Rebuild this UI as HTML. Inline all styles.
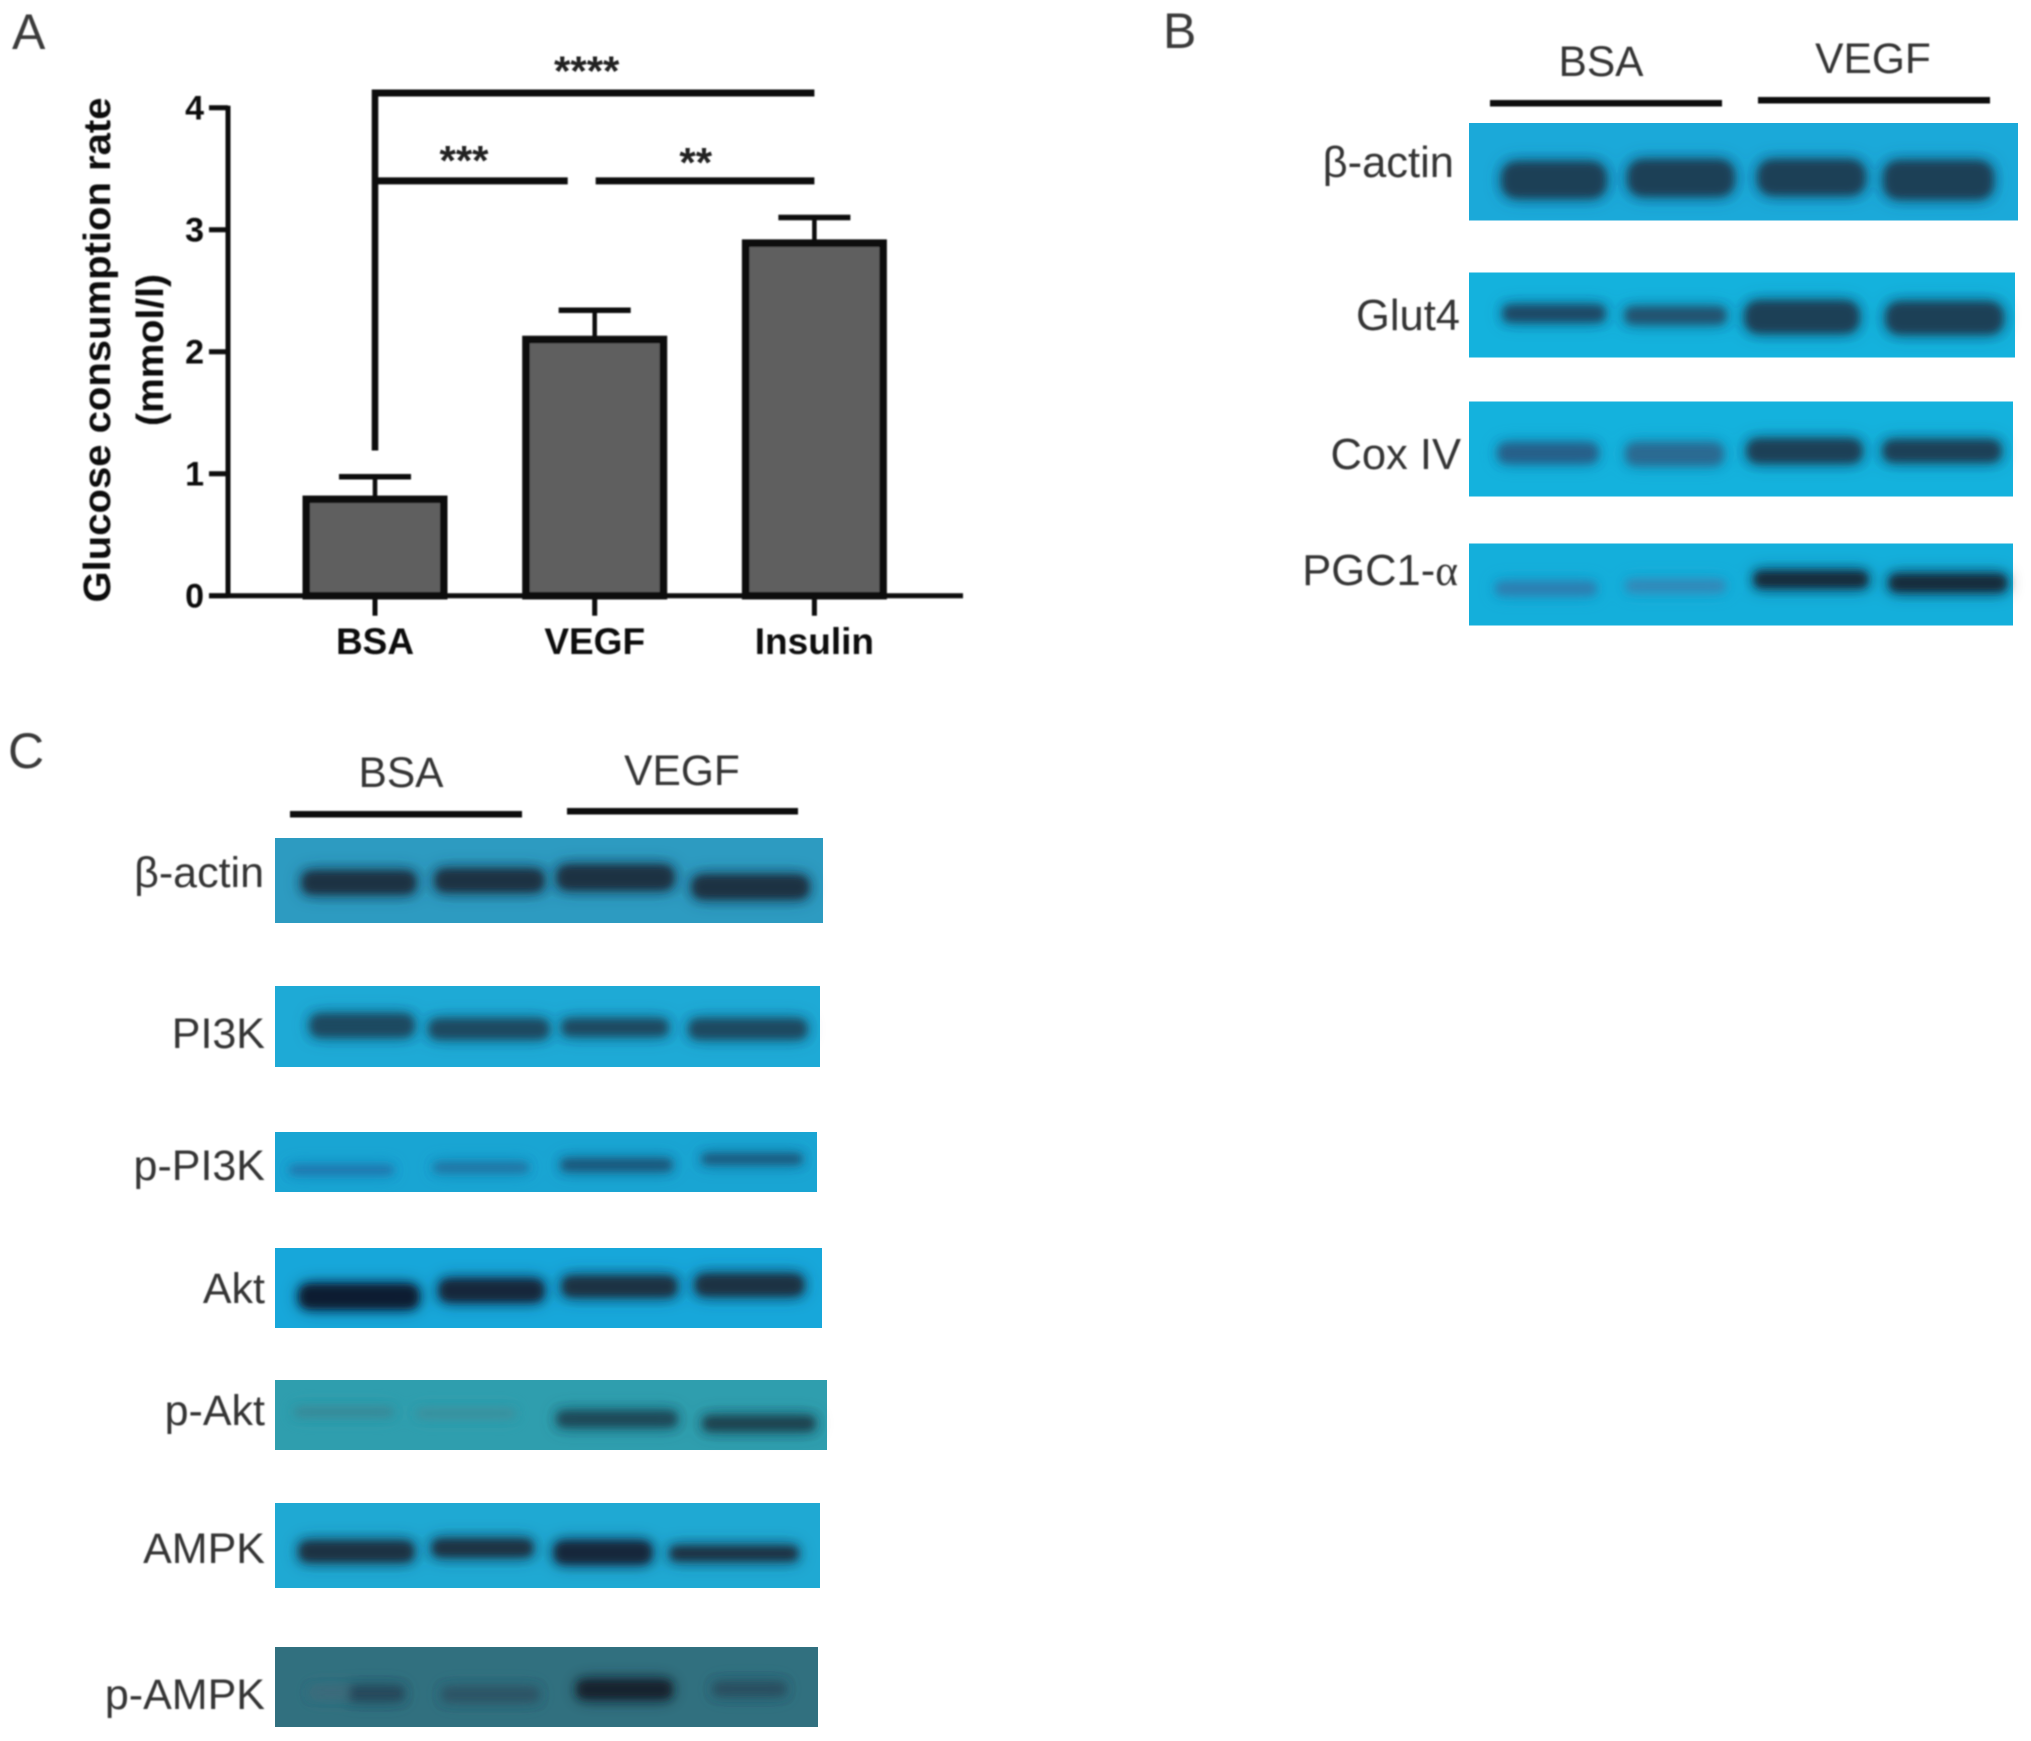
<!DOCTYPE html>
<html lang="en">
<head>
<meta charset="utf-8">
<title>Glucose consumption and western blots</title>
<style>
html,body{margin:0;padding:0;background:#fff;}
#figure{display:block;width:2031px;height:1741px;font-family:"Liberation Sans",sans-serif;}
.panel{font-size:50px;fill:#3a3a3a;}
.lab{font-size:43.5px;fill:#363636;text-anchor:end;}
.labc{font-size:43px;fill:#363636;text-anchor:end;}
.grp{font-size:42.5px;fill:#363636;text-anchor:middle;}
.rule{fill:#0a0a0a;}
</style>
</head>
<body>
<svg id="figure" xmlns="http://www.w3.org/2000/svg" width="2031" height="1741" viewBox="0 0 2031 1741">
<defs>
<filter id="band" x="-30%" y="-150%" width="160%" height="400%">
<feMorphology in="SourceGraphic" operator="dilate" radius="2" result="fat"/>
<feGaussianBlur in="fat" stdDeviation="9" result="wide"/>
<feComponentTransfer in="wide" result="halo"><feFuncA type="linear" slope="0.6"/></feComponentTransfer>
<feGaussianBlur in="fat" stdDeviation="4.5" result="core"/>
<feMerge><feMergeNode in="halo"/><feMergeNode in="core"/></feMerge>
</filter>
<filter id="soft" x="-5%" y="-5%" width="110%" height="110%"><feGaussianBlur stdDeviation="0.7"/></filter>
</defs>
<rect width="2031" height="1741" fill="#fff"/>

<g id="chart-a" filter="url(#soft)"></g>

<g filter="url(#soft)">
<text class="panel" x="12" y="49">A</text>
<text class="panel" x="1163" y="48">B</text>
<text class="panel" x="8" y="768">C</text>
</g>

<g>
<g filter="url(#soft)">
<text class="grp" x="1601" y="76">BSA</text>
<text class="grp" x="1873" y="73">VEGF</text>
<rect class="rule" x="1490" y="100" width="232" height="6.5"/>
<rect class="rule" x="1758" y="97" width="232" height="6.5"/>
<text class="lab" x="1454" y="177">β-actin</text>
<text class="lab" x="1460" y="330">Glut4</text>
<text class="lab" x="1461" y="469">Cox IV</text>
<text class="lab" x="1458" y="585">PGC1-<tspan font-family="'Liberation Serif',serif">α</tspan></text>
</g>
<rect x="1469" y="123" width="549" height="97.5" fill="#1ba9d9"/>
<rect x="1469" y="272.5" width="546" height="85" fill="#14b2dd"/>
<rect x="1469" y="401.5" width="544" height="95" fill="#14b2dd"/>
<rect x="1469" y="543.5" width="544" height="82" fill="#14afdb"/>
<g filter="url(#band)" fill="#1f3f56">
<rect x="1504" y="164" width="100" height="32" rx="14"/>
<rect x="1630" y="162" width="102" height="32" rx="14"/>
<rect x="1760" y="162" width="103" height="31" rx="14"/>
<rect x="1886" y="163" width="105" height="34" rx="14"/>
<rect x="1505" y="307" width="98" height="13" rx="6" fill="#1f4a66"/>
<rect x="1627" y="309" width="97" height="13" rx="6" fill="#245270"/>
<rect x="1747" y="303" width="110" height="28" rx="13"/>
<rect x="1888" y="304" width="113" height="28" rx="13"/>
<rect x="1500" y="445" width="96" height="16" rx="8" fill="#27618a"/>
<rect x="1628" y="445" width="93" height="18" rx="8" fill="#2a6a92"/>
<rect x="1749" y="441" width="111" height="20" rx="10"/>
<rect x="1885" y="442" width="114" height="18" rx="9"/>
<rect x="1498" y="584" width="96" height="9" rx="4" fill="#2f7eb0"/>
<rect x="1628" y="582" width="95" height="8" rx="4" fill="#3688b8"/>
<rect x="1756" y="573" width="110" height="13" rx="6" fill="#14293a"/>
<rect x="1891" y="576" width="114" height="14" rx="7" fill="#14293a"/>
</g>
</g>

<g>
<g filter="url(#soft)">
<text class="grp" x="401" y="787">BSA</text>
<text class="grp" x="682" y="785">VEGF</text>
<rect class="rule" x="290" y="811" width="232" height="6.5"/>
<rect class="rule" x="567" y="808" width="231" height="6.5"/>
<text class="labc" x="264" y="887">β-actin</text>
<text class="labc" x="265" y="1048">PI3K</text>
<text class="labc" x="265" y="1180">p-PI3K</text>
<text class="labc" x="265" y="1303">Akt</text>
<text class="labc" x="265" y="1425">p-Akt</text>
<text class="labc" x="265" y="1563">AMPK</text>
<text class="labc" x="265" y="1709">p-AMPK</text>
</g>
<rect x="275" y="838" width="548" height="85" fill="#2d9bc1"/>
<rect x="275" y="986" width="545" height="81" fill="#1eaad6"/>
<rect x="275" y="1132" width="542" height="60" fill="#19a5d3"/>
<rect x="275" y="1248" width="547" height="80" fill="#17a7da"/>
<rect x="275" y="1380" width="552" height="70" fill="#2f9eae"/>
<rect x="275" y="1503" width="545" height="85" fill="#1fa9d3"/>
<rect x="275" y="1647" width="543" height="80" fill="#31707f"/>
<g filter="url(#band)" fill="#1a3343">
<rect x="304" y="873" width="110" height="19" rx="9"/>
<rect x="437" y="871" width="105" height="19" rx="9"/>
<rect x="559" y="867" width="113" height="21" rx="10"/>
<rect x="694" y="877" width="113" height="20" rx="10"/>
<rect x="312" y="1016" width="100" height="19" rx="9" fill="#1f4a60"/>
<rect x="431" y="1021" width="116" height="16" rx="8" fill="#1f4a60"/>
<rect x="564" y="1021" width="102" height="13" rx="6" fill="#1f4a60"/>
<rect x="691" y="1021" width="114" height="16" rx="8" fill="#1f4a60"/>
<rect x="292" y="1168" width="99" height="4" rx="2" fill="#2470a8"/>
<rect x="436" y="1165" width="90" height="5" rx="2" fill="#23709f"/>
<rect x="563" y="1161" width="107" height="8" rx="4" fill="#1f5578"/>
<rect x="704" y="1156" width="96" height="6" rx="3" fill="#1f5578"/>
<rect x="301" y="1286" width="116" height="21" rx="10" fill="#101f30"/>
<rect x="441" y="1281" width="101" height="19" rx="9" fill="#14283a"/>
<rect x="564" y="1278" width="111" height="17" rx="8"/>
<rect x="697" y="1276" width="105" height="18" rx="9"/>
<rect x="297" y="1410" width="94" height="4" rx="2" fill="#3b8795"/>
<rect x="419" y="1412" width="94" height="3" rx="1" fill="#418d9a"/>
<rect x="559" y="1413" width="116" height="12" rx="6" fill="#1e4a58"/>
<rect x="705" y="1418" width="108" height="11" rx="5" fill="#1c4250"/>
<rect x="301" y="1543" width="111" height="17" rx="8"/>
<rect x="434" y="1541" width="97" height="14" rx="7"/>
<rect x="556" y="1543" width="94" height="19" rx="9" fill="#14283a"/>
<rect x="672" y="1548" width="124" height="11" rx="5"/>
<rect x="312" y="1690" width="36" height="5" rx="2" fill="#3f6a7a"/>
<rect x="350" y="1688" width="52" height="11" rx="5" fill="#264a5c"/>
<rect x="444" y="1689" width="93" height="11" rx="5" fill="#2f5566"/>
<rect x="579" y="1682" width="91" height="15" rx="7" fill="#12232e"/>
<rect x="715" y="1684" width="69" height="10" rx="5" fill="#2b4f60"/>
</g>
</g>
</svg>

<script>
const categories = ['BSA', 'VEGF', 'Insulin'];
const meanValues = [0.79, 2.10, 2.89];
const errorTops = [0.975, 2.34, 3.10];
const yTickLabels = [0, 1, 2, 3, 4];
const bracketLevels = [4.12, 3.40];
const bracketFoot = 1.19;
const starLabels = ['****', '***', '**'];

const NS = 'http://www.w3.org/2000/svg';
const chart = document.getElementById('chart-a');
const yScale = v => 595.7 - v * 122;
const xScale = i => 375 + i * 219.7;
const barWidth = 137.5;

function make(tag, attrs, text) {
  const el = document.createElementNS(NS, tag);
  for (const k in attrs) el.setAttribute(k, attrs[k]);
  if (text !== undefined) el.textContent = text;
  chart.appendChild(el);
  return el;
}
function seg(x1, y1, x2, y2, w) {
  return make('line', { x1: x1, y1: y1, x2: x2, y2: y2, stroke: '#0a0a0a', 'stroke-width': w });
}

meanValues.forEach((v, i) => {
  const cx = xScale(i);
  const stem = seg(cx, yScale(errorTops[i]), cx, yScale(v), 4.5);
  
  
  const cap = seg(cx - 36, yScale(errorTops[i]), cx + 36, yScale(errorTops[i]), 5.5);
  
  
  const bar = make('rect', { x: cx - barWidth / 2, y: yScale(v), width: barWidth, height: yScale(0) - yScale(v), fill: '#5f5f5f', stroke: '#0a0a0a', 'stroke-width': 7.5 });
  
  
  const tick = seg(cx, yScale(0), cx, yScale(0) + 20, 5);
  
  
  const label = make('text', { x: cx, y: 654, 'text-anchor': 'middle', 'font-size': 37, 'font-weight': 'bold', fill: '#111' }, categories[i]);
  
  
});

const yAxis = seg(228, yScale(4) - 2, 228, yScale(0), 5);


const xAxis = seg(209, yScale(0), 963, yScale(0), 5);



yTickLabels.forEach(t => {
  const tick = seg(209, yScale(t), 228, yScale(t), 5);
  
  
  const label = make('text', { x: 204, y: yScale(t) + 12, 'text-anchor': 'end', 'font-size': 34, 'font-weight': 'bold', fill: '#111' }, t);
  
  
});

const title1 = make('text', { transform: 'translate(110,350) rotate(-90)', 'text-anchor': 'middle', 'font-size': 38, 'font-weight': 'bold', fill: '#111', textLength: 505, lengthAdjust: 'spacingAndGlyphs' }, 'Glucose consumption rate');


const title2 = make('text', { transform: 'translate(163,350) rotate(-90)', 'text-anchor': 'middle', 'font-size': 38, 'font-weight': 'bold', fill: '#111', textLength: 152, lengthAdjust: 'spacingAndGlyphs' }, '(mmol/l)');



const bracketStem = seg(xScale(0), yScale(bracketLevels[0]) - 3.5, xScale(0), yScale(bracketFoot), 6.5);


const bracketTop = seg(xScale(0), yScale(bracketLevels[0]), xScale(2), yScale(bracketLevels[0]), 7);


const bracketLeft = seg(xScale(0), yScale(bracketLevels[1]), xScale(1) - 27, yScale(bracketLevels[1]), 7);


const bracketRight = seg(xScale(1) + 1, yScale(bracketLevels[1]), xScale(2), yScale(bracketLevels[1]), 7);



const starTop = make('text', { x: (xScale(0) + xScale(2)) / 2 - 8, y: yScale(bracketLevels[0]) - 7.5, 'text-anchor': 'middle', 'font-size': 42, 'font-weight': 'bold', fill: '#222' }, starLabels[0]);


const starLeft = make('text', { x: xScale(0) + 89, y: yScale(bracketLevels[1]) - 6, 'text-anchor': 'middle', 'font-size': 42, 'font-weight': 'bold', fill: '#222' }, starLabels[1]);


const starRight = make('text', { x: xScale(1) + 101, y: yScale(bracketLevels[1]) - 4, 'text-anchor': 'middle', 'font-size': 42, 'font-weight': 'bold', fill: '#222' }, starLabels[2]);


</script>
</body>
</html>
